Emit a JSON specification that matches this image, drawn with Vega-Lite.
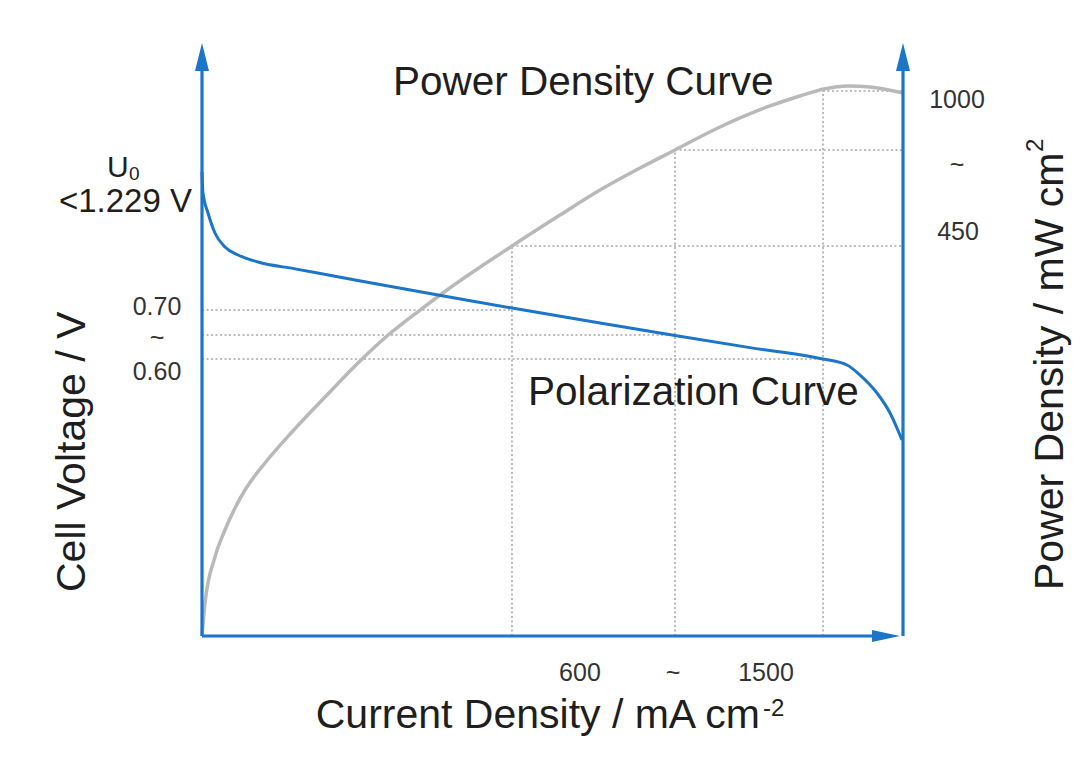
{
  "$schema": "https://vega.github.io/schema/vega-lite/v6.json",
  "width": 701,
  "height": 593,
  "autosize": "none",
  "padding": {"left": 202, "top": 43, "right": 177, "bottom": 133},
  "background": "white",
  "config": {
    "view": {"stroke": null},
    "text": {"font": "Liberation Sans", "color": "#1e1e1e"}
  },
  "datasets": {
    "polarization": [
      {"i": 0, "v": 78.25}, {"i": 0.14, "v": 74.7}, {"i": 0.86, "v": 71.33},
      {"i": 1.85, "v": 67.96}, {"i": 3.28, "v": 65.6}, {"i": 5.14, "v": 64.25},
      {"i": 7.99, "v": 63.07}, {"i": 13.27, "v": 61.91}, {"i": 21.83, "v": 60.03},
      {"i": 34.66, "v": 57.3}, {"i": 44.22, "v": 55.31}, {"i": 56.78, "v": 52.78},
      {"i": 67.48, "v": 50.67}, {"i": 78.17, "v": 48.63}, {"i": 88.59, "v": 46.71},
      {"i": 92.01, "v": 45.7}, {"i": 93.87, "v": 44.01}, {"i": 96.29, "v": 40.98},
      {"i": 98.15, "v": 37.61}, {"i": 99.86, "v": 33.05}
    ],
    "power": [
      {"i": 0, "p": 0}, {"i": 0.43, "p": 5.56}, {"i": 1.85, "p": 13.32},
      {"i": 3.28, "p": 17.88}, {"i": 6.13, "p": 24.62}, {"i": 8.99, "p": 29.17},
      {"i": 12.84, "p": 34.4}, {"i": 17.55, "p": 40.3}, {"i": 22.54, "p": 46.37},
      {"i": 26.39, "p": 50.59}, {"i": 31.1, "p": 54.97}, {"i": 34.95, "p": 58.35},
      {"i": 44.22, "p": 65.77}, {"i": 51.07, "p": 70.99}, {"i": 56.78, "p": 75.21},
      {"i": 62.48, "p": 78.92}, {"i": 67.48, "p": 81.96}, {"i": 73.89, "p": 85.83},
      {"i": 81.03, "p": 89.38}, {"i": 85.31, "p": 91.06}, {"i": 88.73, "p": 92.24},
      {"i": 92.15, "p": 92.75}, {"i": 95.29, "p": 92.58}, {"i": 100, "p": 91.57}
    ],
    "grid": [
      {"x": 0, "x2": 44.22, "y": 54.97, "y2": 54.97},
      {"x": 0, "x2": 67.48, "y": 50.76, "y2": 50.76},
      {"x": 0, "x2": 88.59, "y": 46.71, "y2": 46.71},
      {"x": 44.22, "x2": 44.22, "y": 0, "y2": 65.77},
      {"x": 67.48, "x2": 67.48, "y": 0, "y2": 81.96},
      {"x": 88.59, "x2": 88.59, "y": 0, "y2": 91.9},
      {"x": 44.22, "x2": 100, "y": 65.77, "y2": 65.77},
      {"x": 67.48, "x2": 100, "y": 81.96, "y2": 81.96},
      {"x": 88.59, "x2": 100, "y": 91.9, "y2": 91.9}
    ],
    "axes": [
      {"x": 0, "x2": 0, "y": 0, "y2": 97},
      {"x": 0, "x2": 98, "y": 0, "y2": 0},
      {"x": 100, "x2": 100, "y": 0, "y2": 97}
    ],
    "arrowsUp": [{"x": 0, "y": 100}, {"x": 100, "y": 100}],
    "arrowsRight": [{"x": 99.57, "y": 0}],
    "tickLabels": [
      {"x": -6.42, "y": 55.48, "label": "0.70"},
      {"x": -6.42, "y": 50.25, "label": "~"},
      {"x": -6.42, "y": 44.52, "label": "0.60"},
      {"x": 53.92, "y": -6.24, "label": "600"},
      {"x": 67.19, "y": -6.24, "label": "~"},
      {"x": 80.46, "y": -6.24, "label": "1500"},
      {"x": 107.7, "y": 90.39, "label": "1000"},
      {"x": 107.7, "y": 79.43, "label": "~"},
      {"x": 107.85, "y": 68.13, "label": "450"}
    ],
    "curveLabels": [
      {"x": 27.25, "y": 91.23, "label": "Power Density Curve"},
      {"x": 46.5, "y": 38.95, "label": "Polarization Curve"}
    ],
    "xTitle": [{"x": 79.6, "y": -15.51, "label": "Current Density / mA cm"}],
    "yTitles": [
      {"x": -16.69, "y": 7.42, "label": "Cell Voltage / V"},
      {"x": 122.82, "y": 7.76, "label": "Power Density / mW cm"}
    ],
    "superscripts": [{"x": 80.03, "y": -13.49, "label": "-2"}],
    "rotSuperscripts": [{"x": 119.97, "y": 81.6, "label": "2"}],
    "u0": [{"x": -13.55, "y": 77.4, "label": "U"}],
    "u0sub": [{"x": -10.41, "y": 76.9, "label": "0"}],
    "u0value": [{"x": -1.43, "y": 71.5, "label": "<1.229 V"}]
  },
  "layer": [
    {
      "data": {"name": "grid"},
      "mark": {"type": "rule", "color": "#a8a8a8", "strokeWidth": 1.6, "strokeDash": [2, 2.5]},
      "encoding": {
        "x": {"field": "x", "type": "quantitative", "scale": {"domain": [0, 100], "nice": false}, "axis": null},
        "x2": {"field": "x2"},
        "y": {"field": "y", "type": "quantitative", "scale": {"domain": [0, 100], "nice": false}, "axis": null},
        "y2": {"field": "y2"}
      }
    },
    {
      "data": {"name": "power"},
      "mark": {"type": "line", "color": "#b9b9b9", "strokeWidth": 3.5, "interpolate": "monotone"},
      "encoding": {
        "x": {"field": "i", "type": "quantitative", "scale": {"domain": [0, 100], "nice": false}, "axis": null},
        "y": {"field": "p", "type": "quantitative", "scale": {"domain": [0, 100], "nice": false}, "axis": null}
      }
    },
    {
      "data": {"name": "polarization"},
      "mark": {"type": "line", "color": "#1b75c9", "strokeWidth": 3, "interpolate": "monotone"},
      "encoding": {
        "x": {"field": "i", "type": "quantitative", "scale": {"domain": [0, 100], "nice": false}, "axis": null},
        "y": {"field": "v", "type": "quantitative", "scale": {"domain": [0, 100], "nice": false}, "axis": null}
      }
    },
    {
      "data": {"name": "axes"},
      "mark": {"type": "rule", "color": "#1b75c9", "strokeWidth": 3.2},
      "encoding": {
        "x": {"field": "x", "type": "quantitative", "scale": {"domain": [0, 100], "nice": false}, "axis": null},
        "x2": {"field": "x2"},
        "y": {"field": "y", "type": "quantitative", "scale": {"domain": [0, 100], "nice": false}, "axis": null},
        "y2": {"field": "y2"}
      }
    },
    {
      "data": {"name": "arrowsUp"},
      "mark": {"type": "point", "shape": "M0,0L-0.5,2L0.5,2Z", "size": 784, "filled": true, "color": "#1b75c9", "opacity": 1},
      "encoding": {
        "x": {"field": "x", "type": "quantitative", "scale": {"domain": [0, 100], "nice": false}, "axis": null},
        "y": {"field": "y", "type": "quantitative", "scale": {"domain": [0, 100], "nice": false}, "axis": null}
      }
    },
    {
      "data": {"name": "arrowsRight"},
      "mark": {"type": "point", "shape": "M0,0L-2,-0.42L-2,0.42Z", "size": 784, "filled": true, "color": "#1b75c9", "opacity": 1},
      "encoding": {
        "x": {"field": "x", "type": "quantitative", "scale": {"domain": [0, 100], "nice": false}, "axis": null},
        "y": {"field": "y", "type": "quantitative", "scale": {"domain": [0, 100], "nice": false}, "axis": null}
      }
    },
    {
      "data": {"name": "tickLabels"},
      "mark": {"type": "text", "fontSize": 25, "align": "center", "baseline": "middle", "color": "#333333"},
      "encoding": {
        "x": {"field": "x", "type": "quantitative", "scale": {"domain": [0, 100], "nice": false}, "axis": null},
        "y": {"field": "y", "type": "quantitative", "scale": {"domain": [0, 100], "nice": false}, "axis": null},
        "text": {"field": "label"}
      }
    },
    {
      "data": {"name": "curveLabels"},
      "mark": {"type": "text", "fontSize": 40.5, "align": "left", "baseline": "alphabetic"},
      "encoding": {
        "x": {"field": "x", "type": "quantitative", "scale": {"domain": [0, 100], "nice": false}, "axis": null},
        "y": {"field": "y", "type": "quantitative", "scale": {"domain": [0, 100], "nice": false}, "axis": null},
        "text": {"field": "label"}
      }
    },
    {
      "data": {"name": "xTitle"},
      "mark": {"type": "text", "fontSize": 41, "align": "right", "baseline": "alphabetic"},
      "encoding": {
        "x": {"field": "x", "type": "quantitative", "scale": {"domain": [0, 100], "nice": false}, "axis": null},
        "y": {"field": "y", "type": "quantitative", "scale": {"domain": [0, 100], "nice": false}, "axis": null},
        "text": {"field": "label"}
      }
    },
    {
      "data": {"name": "superscripts"},
      "mark": {"type": "text", "fontSize": 24, "align": "left", "baseline": "alphabetic"},
      "encoding": {
        "x": {"field": "x", "type": "quantitative", "scale": {"domain": [0, 100], "nice": false}, "axis": null},
        "y": {"field": "y", "type": "quantitative", "scale": {"domain": [0, 100], "nice": false}, "axis": null},
        "text": {"field": "label"}
      }
    },
    {
      "data": {"name": "yTitles"},
      "mark": {"type": "text", "fontSize": 41, "align": "left", "baseline": "alphabetic", "angle": 270},
      "encoding": {
        "x": {"field": "x", "type": "quantitative", "scale": {"domain": [0, 100], "nice": false}, "axis": null},
        "y": {"field": "y", "type": "quantitative", "scale": {"domain": [0, 100], "nice": false}, "axis": null},
        "text": {"field": "label"}
      }
    },
    {
      "data": {"name": "rotSuperscripts"},
      "mark": {"type": "text", "fontSize": 24, "align": "left", "baseline": "alphabetic", "angle": 270},
      "encoding": {
        "x": {"field": "x", "type": "quantitative", "scale": {"domain": [0, 100], "nice": false}, "axis": null},
        "y": {"field": "y", "type": "quantitative", "scale": {"domain": [0, 100], "nice": false}, "axis": null},
        "text": {"field": "label"}
      }
    },
    {
      "data": {"name": "u0"},
      "mark": {"type": "text", "fontSize": 30, "align": "left", "baseline": "alphabetic"},
      "encoding": {
        "x": {"field": "x", "type": "quantitative", "scale": {"domain": [0, 100], "nice": false}, "axis": null},
        "y": {"field": "y", "type": "quantitative", "scale": {"domain": [0, 100], "nice": false}, "axis": null},
        "text": {"field": "label"}
      }
    },
    {
      "data": {"name": "u0sub"},
      "mark": {"type": "text", "fontSize": 19, "align": "left", "baseline": "alphabetic"},
      "encoding": {
        "x": {"field": "x", "type": "quantitative", "scale": {"domain": [0, 100], "nice": false}, "axis": null},
        "y": {"field": "y", "type": "quantitative", "scale": {"domain": [0, 100], "nice": false}, "axis": null},
        "text": {"field": "label"}
      }
    },
    {
      "data": {"name": "u0value"},
      "mark": {"type": "text", "fontSize": 33, "align": "right", "baseline": "alphabetic"},
      "encoding": {
        "x": {"field": "x", "type": "quantitative", "scale": {"domain": [0, 100], "nice": false}, "axis": null},
        "y": {"field": "y", "type": "quantitative", "scale": {"domain": [0, 100], "nice": false}, "axis": null},
        "text": {"field": "label"}
      }
    }
  ]
}
